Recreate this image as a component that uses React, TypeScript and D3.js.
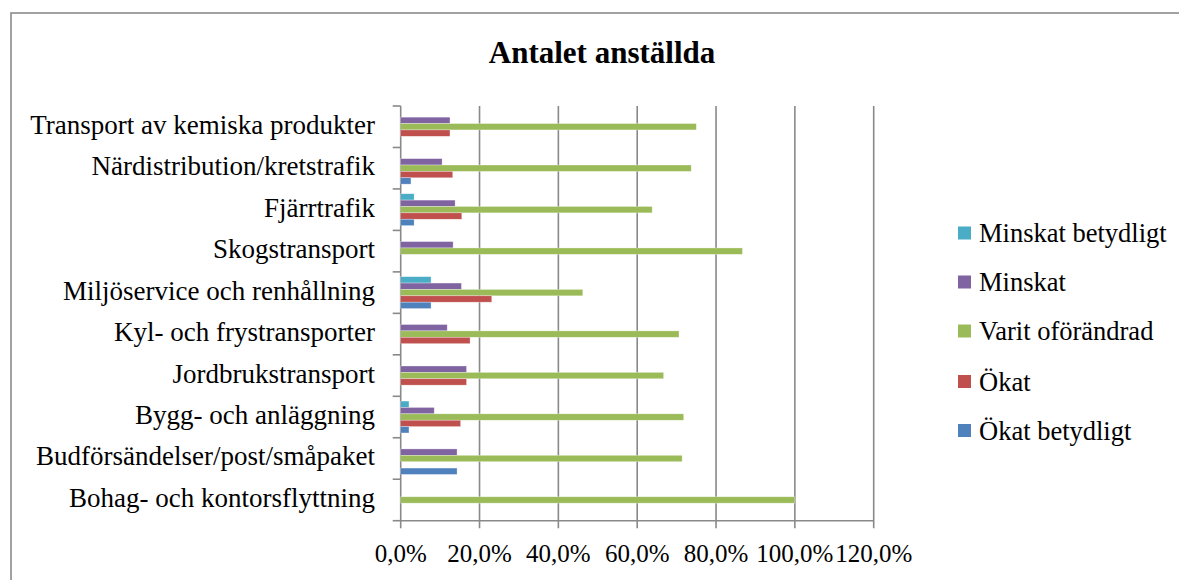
import React from "react";
import * as d3 from "d3";

const categories = [
  "Transport av kemiska produkter",
  "Närdistribution/kretstrafik",
  "Fjärrtrafik",
  "Skogstransport",
  "Miljöservice och renhållning",
  "Kyl- och frystransporter",
  "Jordbrukstransport",
  "Bygg- och anläggning",
  "Budförsändelser/post/småpaket",
  "Bohag- och kontorsflyttning",
];

const seriesNames = ["Minskat betydligt", "Minskat", "Varit oförändrad", "Ökat", "Ökat betydligt"];
const seriesColors = ["#4BACC6", "#8064A2", "#9BBB59", "#C0504D", "#4F81BD"];

const minskatBetydligt = [0, 0, 3.4, 0, 7.7, 0, 0, 2.1, 0, 0];
const minskat = [12.5, 10.5, 13.8, 13.3, 15.4, 11.8, 16.7, 8.5, 14.3, 0];
const varitOforandrad = [75, 73.7, 63.8, 86.7, 46.2, 70.6, 66.7, 71.8, 71.4, 100];
const okat = [12.5, 13.2, 15.5, 0, 23.1, 17.6, 16.7, 15.2, 0, 0];
const okatBetydligt = [0, 2.6, 3.4, 0, 7.7, 0, 0, 2.1, 14.3, 0];

const seriesValues = [minskatBetydligt, minskat, varitOforandrad, okat, okatBetydligt];
const xTicks = [0, 0.2, 0.4, 0.6, 0.8, 1.0, 1.2];

const FONT = "'Liberation Serif', 'Times New Roman', serif";

export default function App() {
  const W = 1179;
  const H = 580;
  const x = d3.scaleLinear().domain([0, 1.2]).range([400.7, 873.7]);
  const y = d3.scaleBand<string>().domain(categories).range([106, 520.7]).padding(0);
  const inner = d3
    .scaleBand<string>()
    .domain(seriesNames)
    .range([0, y.step()])
    .paddingInner(0)
    .paddingOuter(0.75);
  const fmt = d3
    .formatLocale({ decimal: ",", thousands: " ", grouping: [3], currency: ["", " kr"] })
    .format(".1%");
  const grid = "#898989";
  const y0 = y.range()[0];
  const y1 = y.range()[1];
  const boundaries = categories.map((c) => y(c) as number).concat([y1]);
  const legendY = [233, 282, 331, 381.5, 430.5];

  return (
    <svg
      width={W}
      height={H}
      style={{ position: "absolute", left: 0, top: 0, background: "#fff" }}
      fontFamily={FONT}
    >
      <rect x={11} y={13} width={W + 10} height={H + 10} fill="#fff" stroke="#8a8a8a" strokeWidth={1.6} />
      <text x={602} y={63} textAnchor="middle" fontSize={31} fontWeight="bold" fill="#000">
        Antalet anställda
      </text>

      {/* gridlines */}
      {xTicks.map((t) => (
        <line key={"g" + t} x1={x(t)} x2={x(t)} y1={y0} y2={y1 + 7.5} stroke={grid} strokeWidth={1.6} />
      ))}
      {/* axis lines */}
      <line x1={x(0)} x2={x(1.2)} y1={y1} y2={y1} stroke={grid} strokeWidth={1.6} />
      {boundaries.map((b, i) => (
        <line key={"yt" + i} x1={x(0) - 8} x2={x(0)} y1={b} y2={b} stroke={grid} strokeWidth={1.6} />
      ))}

      {/* bars */}
      {seriesValues.map((vals, si) =>
        categories.map((c, ci) => {
          const v = vals[ci];
          if (!v) return null;
          return (
            <rect
              key={si + "-" + ci}
              x={x(0)}
              y={(y(c) as number) + (inner(seriesNames[si]) as number)}
              width={x(v / 100) - x(0)}
              height={inner.bandwidth()}
              fill={seriesColors[si]}
              stroke="#ffffff"
              strokeOpacity={0.5}
              strokeWidth={0.6}
            />
          );
        })
      )}

      {/* category labels */}
      {categories.map((c) => (
        <text
          key={c}
          x={375}
          y={(y(c) as number) + y.bandwidth() / 2 - 2}
          textAnchor="end"
          dominantBaseline="central"
          fontSize={27}
          fill="#000"
        >
          {c}
        </text>
      ))}

      {/* x tick labels */}
      {xTicks.map((t) => (
        <text key={"l" + t} x={x(t)} y={561.5} textAnchor="middle" fontSize={25} fill="#000">
          {fmt(t)}
        </text>
      ))}

      {/* legend */}
      {seriesNames.map((s, i) => (
        <g key={s}>
          <rect x={958} y={legendY[i] - 6.5} width={13} height={13} fill={seriesColors[i]} />
          <text x={979} y={legendY[i]} dominantBaseline="central" fontSize={26.5} fill="#000">
            {s}
          </text>
        </g>
      ))}
    </svg>
  );
}
